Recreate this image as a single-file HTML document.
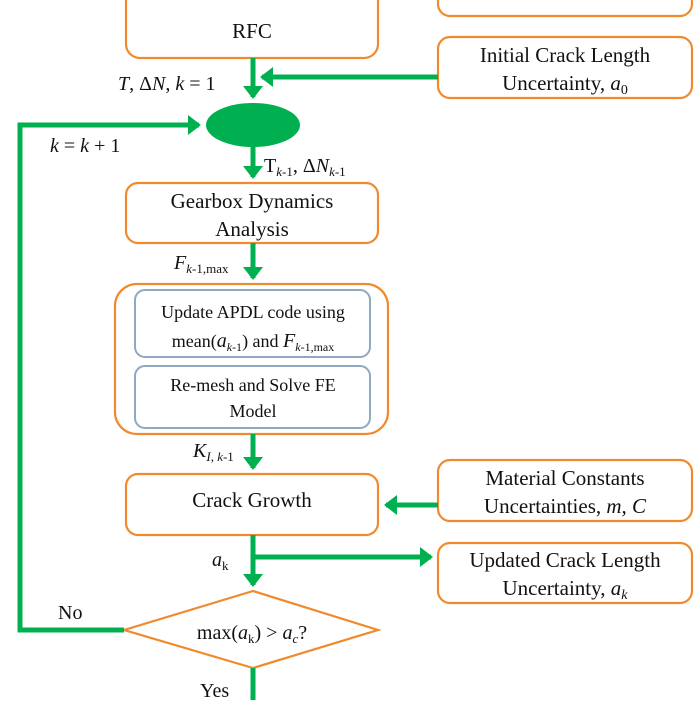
<!DOCTYPE html>
<html><head><style>
body{margin:0;background:#fff;}
svg text{font-family:"Liberation Serif",serif;fill:#111;}
</style></head><body>
<svg width="700" height="700" viewBox="0 0 700 700" xmlns="http://www.w3.org/2000/svg">
<defs>
<marker id="a" markerWidth="4" markerHeight="4" refX="2.2" refY="2" orient="auto" markerUnits="strokeWidth">
<path d="M0,0 L2.6,2 L0,4 z" fill="#00b050"/></marker>
</defs>
<g fill="#fff" stroke="#f08a2c" stroke-width="2.2">
<rect x="126" y="-14" width="252" height="72" rx="14"/>
<rect x="438" y="-30" width="254" height="46" rx="12"/>
<rect x="438" y="37" width="254" height="61" rx="12"/>
<rect x="126" y="183" width="252" height="60" rx="12"/>
<rect x="115" y="284" width="273" height="150" rx="22"/>
<rect x="126" y="474" width="252" height="61" rx="12"/>
<rect x="438" y="460" width="254" height="61" rx="12"/>
<rect x="438" y="543" width="254" height="60" rx="12"/>
<polygon points="124,630 253,591 378,630 253,668"/>
</g>
<g fill="#fff" stroke="#8ea9c1" stroke-width="2">
<rect x="135" y="290" width="235" height="67" rx="10"/>
<rect x="135" y="366" width="235" height="62" rx="10"/>
</g>
<g stroke="#00b050" stroke-width="5" fill="none">
<line x1="253" y1="58" x2="253" y2="97" marker-end="url(#a)"/>
<line x1="438" y1="77" x2="262" y2="77" marker-end="url(#a)"/>
<line x1="253" y1="147" x2="253" y2="177" marker-end="url(#a)"/>
<line x1="253" y1="243" x2="253" y2="278" marker-end="url(#a)"/>
<line x1="253" y1="434" x2="253" y2="468" marker-end="url(#a)"/>
<line x1="438" y1="505" x2="386" y2="505" marker-end="url(#a)"/>
<line x1="253" y1="535" x2="253" y2="585" marker-end="url(#a)"/>
<line x1="253" y1="557" x2="431" y2="557" marker-end="url(#a)"/>
<line x1="253" y1="668" x2="253" y2="705"/>
<polyline points="124,630 20,630 20,125 199,125" marker-end="url(#a)"/>
</g>
<ellipse cx="253" cy="125" rx="47" ry="22" fill="#00b050"/>
<g font-size="21" text-anchor="middle">
<text x="252" y="38">RFC</text>
<text x="565" y="62">Initial Crack Length</text>
<text x="565" y="90">Uncertainty, <tspan font-style="italic">a</tspan><tspan font-size="14" dy="4">0</tspan></text>
<text x="252" y="208">Gearbox Dynamics</text>
<text x="252" y="236">Analysis</text>
<text x="252" y="507">Crack Growth</text>
<text x="565" y="485">Material Constants</text>
<text x="565" y="513">Uncertainties, <tspan font-style="italic">m</tspan>, <tspan font-style="italic">C</tspan></text>
<text x="565" y="567">Updated Crack Length</text>
<text x="565" y="595">Uncertainty, <tspan font-style="italic">a</tspan><tspan font-size="14" dy="4" font-style="italic">k</tspan></text>
</g>
<g font-size="18" text-anchor="middle">
<text x="253" y="318">Update APDL code using</text>
<text x="253" y="347">mean(<tspan font-style="italic" font-size="20">a</tspan><tspan font-size="12" dy="4" font-style="italic">k</tspan><tspan font-size="12">-1</tspan><tspan dy="-4">) and </tspan><tspan font-style="italic" font-size="20">F</tspan><tspan font-size="12" dy="4" font-style="italic">k</tspan><tspan font-size="12">-1,max</tspan></text>
<text x="253" y="391">Re-mesh and Solve FE</text>
<text x="253" y="417">Model</text>
<text x="252" y="639" font-size="20">max(<tspan font-style="italic">a</tspan><tspan font-size="13" dy="4">k</tspan><tspan dy="-4">) &gt; </tspan><tspan font-style="italic">a</tspan><tspan font-size="13" dy="4" font-style="italic">c</tspan><tspan dy="-4">?</tspan></text>
</g>
<g font-size="20">
<text x="118" y="90"><tspan font-style="italic">T</tspan>, Δ<tspan font-style="italic">N</tspan>, <tspan font-style="italic">k</tspan> = 1</text>
<text x="50" y="152"><tspan font-style="italic">k</tspan> = <tspan font-style="italic">k</tspan> + 1</text>
<text x="264" y="172">T<tspan font-size="13" dy="4" font-style="italic">k</tspan><tspan font-size="13">-1</tspan><tspan dy="-4">, Δ</tspan><tspan font-style="italic">N</tspan><tspan font-size="13" dy="4" font-style="italic">k</tspan><tspan font-size="13">-1</tspan></text>
<text x="174" y="269"><tspan font-style="italic">F</tspan><tspan font-size="13" dy="4" font-style="italic">k</tspan><tspan font-size="13">-1,max</tspan></text>
<text x="193" y="457"><tspan font-style="italic">K</tspan><tspan font-size="13" dy="4" font-style="italic">I</tspan><tspan font-size="13">, </tspan><tspan font-size="13" font-style="italic">k</tspan><tspan font-size="13">-1</tspan></text>
<text x="212" y="566"><tspan font-style="italic">a</tspan><tspan font-size="13" dy="4">k</tspan></text>
<text x="58" y="619">No</text>
<text x="200" y="697">Yes</text>
</g>
</svg>
</body></html>
